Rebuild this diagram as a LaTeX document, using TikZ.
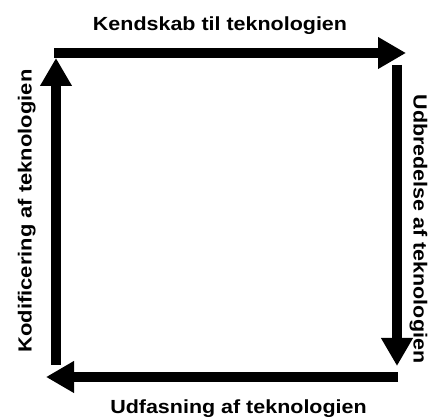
\documentclass[tikz,border=0pt]{standalone}
\usepackage{fontspec}
\setmainfont{Liberation Sans}
\usetikzlibrary{arrows.meta}
\newcommand{\wide}[2]{\scalebox{#1}[1]{#2}}
\begin{document}
\begin{tikzpicture}[x=1pt,y=-1pt,
  flow/.style={line width=10.5pt,-{Triangle[length=28pt,width=30pt]}},
  lbl/.style={font=\fontsize{19}{22}\selectfont\bfseries,inner sep=0pt,anchor=base}]
\useasboundingbox (0,0) rectangle (429,419);
\coordinate (tl) at (54,53);
\coordinate (tr) at (406,53);
\coordinate (rt) at (397,65);
\coordinate (rb) at (397,366);
\coordinate (br) at (398,377);
\coordinate (bl) at (46,377);
\coordinate (lb) at (56,365);
\coordinate (lt) at (56,58);
\draw[flow] (tl) -- (tr);
\draw[flow] (rt) -- (rb);
\draw[flow] (br) -- (bl);
\draw[flow] (lb) -- (lt);
\node[lbl] (top) at (220,31) {\wide{1.13}{Kendskab til teknologien}};
\node[lbl] (bot) at (238.5,414) {\wide{1.13}{Udfasning af teknologien}};
\node[lbl,rotate=90] (left) at (31.5,211) {\wide{1.155}{Kodificering af teknologien}};
\node[lbl,rotate=-90] (right) at (413.5,229) {\wide{1.13}{Udbredelse af teknologien}};
\end{tikzpicture}
\end{document}
